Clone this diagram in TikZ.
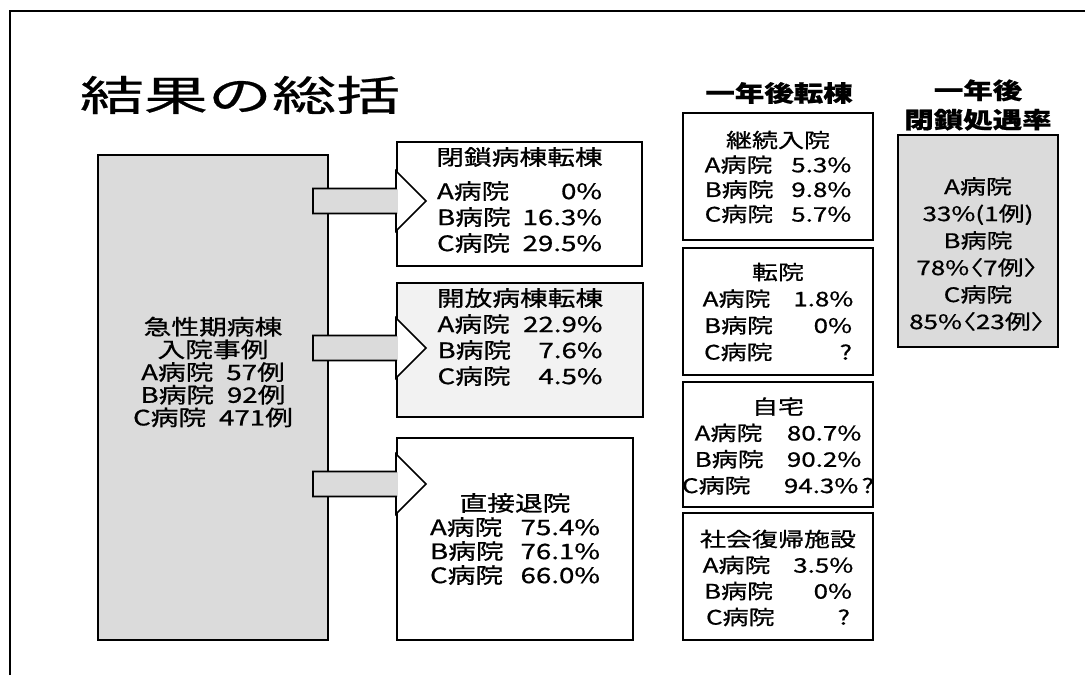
\documentclass[tikz,border=0pt]{standalone}
\usepackage{fontspec}
\setmainfont[FakeStretch=1.3, FakeBold=0.8]{Noto Sans CJK JP}
\newfontfamily\titlefont[FakeStretch=1.55, FakeBold=0.6]{Noto Sans CJK JP}
\usetikzlibrary{calc}
\newcommand\hrow[3]{\makebox[#1]{#2\hfill#3}}
\definecolor{dotgray}{gray}{0.86}
\definecolor{lightdot}{gray}{0.95}
\tikzset{
  box/.style={draw=black, line width=1.5pt, fill=white, inner sep=0pt},
  txt/.style={align=center, inner sep=0pt},
  arrowline/.style={draw=black, line width=1.3pt, line join=miter},
  fontL/.style={font=\fontsize{16}{19.5}\selectfont},
}
\newcommand\blockarrow[3]{%
  \coordinate (s) at ($(#1.east |- 0,#3)+(-16,0)$);
  \coordinate (h) at (#2.west |- 0,#3);
  \fill[white] ($(s)+(0,-12.5)$) -- ($(h)+(0,-12.5)$) -- ($(h)+(0,-30)$) -- ($(h)+(30,0)$) -- ($(h)+(0,30)$) -- ($(h)+(0,12.5)$) -- ($(s)+(0,12.5)$) -- cycle;
  \fill[dotgray] ($(s)+(0,-12.5)$) rectangle ($(h)+(1.5,12.5)$);
  \draw[arrowline] ($(s)+(0,-12.5)$) -- ($(h)+(0,-12.5)$) -- ($(h)+(0,-30)$) -- ($(h)+(30,0)$) -- ($(h)+(0,30)$) -- ($(h)+(0,12.5)$) -- ($(s)+(0,12.5)$) -- cycle;
}
\begin{document}
\begin{tikzpicture}[x=0.75pt, y=-0.75pt]
\useasboundingbox (0,0) rectangle (1085,675);
\fill[white] (0,0) rectangle (1085,675);
% slide frame
\draw[line width=1.5pt] (10,675) -- (10,11) -- (1085,11);

% title
\node[txt, font=\titlefont\fontsize{31}{31}\selectfont] (title) at (240,95) {結果の総括};

% boxes
\node[box, fill=dotgray, minimum width=172.5pt, minimum height=363.75pt] (big) at (213,397.5) {};
\node[box, minimum width=183.75pt, minimum height=93pt] (b2) at (519.5,204) {};
\node[box, fill=lightdot, minimum width=184.5pt, minimum height=100.5pt] (b3) at (520,350) {};
\node[box, minimum width=177pt, minimum height=151.5pt] (b4) at (515,539) {};

\node[box, minimum width=142.5pt, minimum height=95.25pt] (r1) at (778,176.5) {};
\node[box, minimum width=142.5pt, minimum height=95.25pt] (r2) at (778,311.5) {};
\node[box, minimum width=142.5pt, minimum height=93.75pt] (r3) at (778,444.5) {};
\node[box, minimum width=142.5pt, minimum height=95.25pt] (r4) at (778,576.5) {};
\node[box, fill=dotgray, minimum width=120pt, minimum height=159pt] (rb) at (978,241) {};

% block arrows
\blockarrow{big}{b2}{201}
\blockarrow{big}{b3}{348}
\blockarrow{big}{b4}{484}

% texts
\node[txt, font=\fontsize{16}{17}\selectfont] (bigt) at (213,372)
  {急性期病棟\\入院事例\\A病院\hspace{0.6em}57例\\B病院\hspace{0.6em}92例\\C病院\hspace{0.6em}471例};

\node[txt, fontL] (b2t) at (519.5,200)
  {閉鎖病棟転棟\\[6pt]\hrow{123.75pt}{A病院}{0\%}\\\hrow{123.75pt}{B病院}{16.3\%}\\\hrow{123.75pt}{C病院}{29.5\%}};
\node[txt, fontL] (b3t) at (520,337)
  {開放病棟転棟\\\hrow{123.75pt}{A病院}{22.9\%}\\\hrow{123.75pt}{B病院}{7.6\%}\\\hrow{123.75pt}{C病院}{4.5\%}};
\node[txt, font=\fontsize{16}{18}\selectfont] (b4t) at (515,539)
  {直接退院\\\hrow{127.5pt}{A病院}{75.4\%}\\\hrow{127.5pt}{B病院}{76.1\%}\\\hrow{127.5pt}{C病院}{66.0\%}};

% right column headers
\node[txt, font=\bfseries\fontsize{17}{17}\selectfont] (h1) at (779,93) {一年後転棟};
\node[txt, font=\bfseries\fontsize{17}{22}\selectfont] (h2) at (978,105) {一年後\\閉鎖処遇率};

\node[txt, font=\fontsize{15}{18.5}\selectfont] (r1t) at (778,177)
  {継続入院\\\hrow{110pt}{A病院}{5.3\%}\\\hrow{110pt}{B病院}{9.8\%}\\\hrow{110pt}{C病院}{5.7\%}};
\node[txt, font=\fontsize{15}{20}\selectfont] (r2t) at (778,312)
  {転院\\\hrow{113pt}{A病院}{1.8\%}\\\hrow{111pt}{B病院}{0\%}\\\hrow{111pt}{C病院}{?}};
\node[txt, font=\fontsize{15}{19.7}\selectfont] (r3t) at (778,446)
  {自宅\\\hrow{125pt}{A病院}{80.7\%}\\\hrow{125pt}{B病院}{90.2\%}\\\hrow{144pt}{C病院}{94.3\%\,?}};
\node[txt, font=\fontsize{15}{19.5}\selectfont] (r4t) at (778,578)
  {社会復帰施設\\\hrow{113pt}{A病院}{3.5\%}\\\hrow{111pt}{B病院}{0\%}\\\hrow{108pt}{C病院}{?}};
\node[txt, font=\fontsize{15}{20.25}\selectfont] (rbt) at (978,254)
  {A病院\\33\%(1例)\\B病院\\78\%\kern-0.6em〈7例〉\kern-0.5em\\C病院\\85\%\kern-0.6em〈23例〉\kern-0.5em};
\end{tikzpicture}
\end{document}
